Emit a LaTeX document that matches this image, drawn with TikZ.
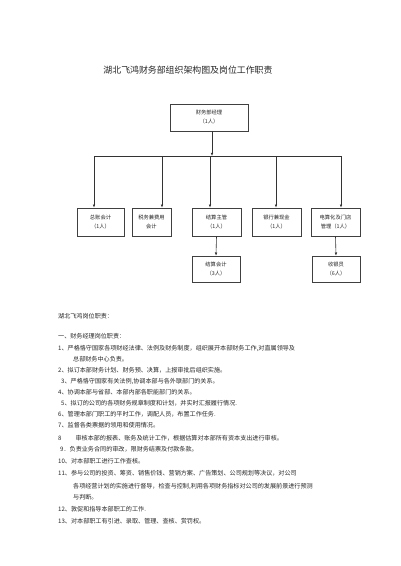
\documentclass[tikz,border=0pt]{standalone}
\usepackage{fontspec}
\setmainfont{Noto Sans CJK SC}
\usetikzlibrary{arrows.meta}
\begin{document}
\begin{tikzpicture}[x=1pt,y=-1pt,
  box/.style={draw=black!75,line width=0.6pt,inner sep=0pt,align=center,
    font=\fontsize{5.3}{9}\selectfont,text=black!85},
  conn/.style={draw=black!80,line width=0.6pt},
  arr/.style={conn,-{Latex[length=3.2pt,width=2.6pt]}},
  ln/.style={anchor=west,inner sep=0pt,font=\fontsize{6.1}{7}\selectfont,text=black!85},
  ttl/.style={inner sep=0pt,font=\fontsize{8.9}{10}\selectfont,text=black!85}]
\useasboundingbox (0,0) rectangle (400,566);
\fill[white] (0,0) rectangle (400,566);
% title
\node[ttl] (title) at (188,70) {湖北飞鸿财务部组织架构图及岗位工作职责};
% boxes
\node[box,minimum width=78pt,minimum height=27pt] (top) at (209,117.5) {财务部经理\\（1人）};
\node[box,minimum width=47pt,minimum height=28pt] (b1) at (100.5,222) {总账会计\\（1人）};
\node[box,minimum width=39pt,minimum height=28pt] (b2) at (151.5,222) {税务兼费用\\会计};
\node[box,minimum width=49pt,minimum height=28pt] (b3) at (216.5,222) {结算主管\\（1人）};
\node[box,minimum width=49pt,minimum height=28pt] (b4) at (276.5,222) {银行兼现金\\（1人）};
\node[box,minimum width=49pt,minimum height=28pt] (b5) at (335.5,222) {电算化及门店\\管理（1人）};
\node[box,minimum width=48pt,minimum height=26pt] (c3) at (216,269) {结算会计\\（3人）};
\node[box,minimum width=48pt,minimum height=26pt] (c5) at (336,269) {收银员\\（6人）};
% bus
\coordinate (t0) at (212,131);
\coordinate (hb) at (212,156);
\coordinate (d1) at (94,156);
\coordinate (d2) at (162,156);
\coordinate (d3) at (210,156);
\coordinate (d4) at (276,156);
\coordinate (d5) at (341,156);
\draw[arr] (t0 |- top.south) -- (hb);
\draw[conn] (d1) -- (d5);
\draw[arr] (d1) -- (d1 |- b1.north);
\draw[arr] (d2) -- (d2 |- b2.north);
\draw[arr] (d3) -- (d3 |- b3.north);
\draw[arr] (d4) -- (d4 |- b4.north);
\draw[arr] (d5) -- (d5 |- b5.north);
\draw[arr] (b3.south) -- (c3.north);
\draw[arr] (b5.south) -- (c5.north);
% text
\node[ln] (l0) at (58,316) {湖北飞鸿岗位职责：};
\node[ln] (l1) at (58,336) {一、财务经理岗位职责：};
\node[ln] (l2) at (58,348) {1、严格恪守国家各项财经法律、法例及财务制度，组织展开本部财务工作,对直属领导及};
\node[ln] (l3) at (73,359) {总部财务中心负责。};
\node[ln] (l4) at (58,370) {2、拟订本部财务计划、财务预、决算，上报审批后组织实施。};
\node[ln] (l5) at (61,381) {3、严格恪守国家有关法例,协调本部与各外联部门的关系。};
\node[ln] (l6) at (58,392) {4、协调本部与省部、本部内部各职能部门的关系。};
\node[ln] (l7) at (61,403) {5、拟订的公司的各项财务规章制度和计划，并实时汇报履行情况.};
\node[ln] (l8) at (58,414) {6、管理本部门职工的平时工作，调配人员，布置工作任务.};
\node[ln] (l9) at (58,425) {7、监督各类票据的领用和使用情况。};
\node[ln] (l10) at (58,438) {8\hspace{14pt}审核本部的报表、账务及统计工作，根据估算对本部所有资本支出进行审核。};
\node[ln] (l11) at (60,449) {9．负责业务合同的审改，限财务结票及付款条款。};
\node[ln] (l12) at (58,461) {10、对本部职工进行工作查核。};
\node[ln] (l13) at (58,473) {11、参与公司的投资、筹资、销售价钱、营销方案、广告策划、公司规划等决议，对公司};
\node[ln] (l14) at (73,486) {各项经营计划的实施进行督导，检查与控制,利用各项财务指标对公司的发展前景进行预测};
\node[ln] (l15) at (73,497) {与判断。};
\node[ln] (l16) at (58,509) {12、敦促和指导本部职工的工作.};
\node[ln] (l17) at (58,521) {13、对本部职工有引进、录取、管理、查核、赏罚权。};
\end{tikzpicture}
\end{document}
